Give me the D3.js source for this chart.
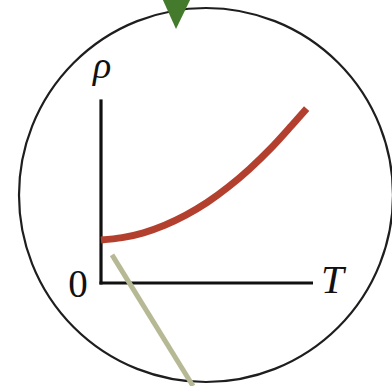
<!DOCTYPE html>
<html>
<head>
<meta charset="utf-8">
<script src="https://cdn.jsdelivr.net/npm/d3@7"></script>
<style>
  html, body { margin: 0; padding: 0; background: #fff; }
  svg { display: block; }
  .lbl { font-family: "Liberation Serif", "DejaVu Serif", serif; fill: #111; }
</style>
</head>
<body>
<svg id="chart" width="392" height="386"></svg>
<script>
// temperature (relative) and resistivity (relative)
const temps = [0, 0.1, 0.2, 0.3, 0.4, 0.5, 0.6, 0.7, 0.8, 0.9, 0.97];
const rhos = [0.239, 0.252, 0.279, 0.321, 0.377, 0.447, 0.533, 0.633, 0.747, 0.876, 0.969];
// pointer line, in the same data units
const pointerT = [0.052, 0.434];
const pointerRho = [0.156, -0.572];
const labels = { y: "ρ", x: "T", origin: "0" };

const svg = d3.select("#chart");

const xScale = d3.scaleLinear().domain([0, 1]).range([101, 313]);
const yScale = d3.scaleLinear().domain([0, 1]).range([283, 103]);

// magnifier circle
svg.append("circle")
  .attr("cx", 206)
  .attr("cy", 195)
  .attr("r", 187)
  .attr("fill", "none")
  .attr("stroke", "#1e1e1e")
  .attr("stroke-width", 2.2);

// green marker at top
svg.append("path")
  .attr("d", "M162,-2 L191,-2 L176,29 Z")
  .attr("fill", "#437a2c");

// axes
const axisGrp = svg.append("g").attr("stroke", "#111").attr("stroke-width", 3.2).attr("fill", "none");
axisGrp.append("line")
  .attr("x1", xScale(0)).attr("x2", xScale(0))
  .attr("y1", yScale(0) + 1.5).attr("y2", yScale(1.02));
axisGrp.append("line")
  .attr("x1", xScale(0) - 1.5).attr("x2", xScale(1))
  .attr("y1", yScale(0)).attr("y2", yScale(0));

// curve
const line = d3.line()
  .x((d, i) => xScale(temps[i]))
  .y((d) => yScale(d))
  .curve(d3.curveMonotoneX);

svg.append("path")
  .datum(rhos)
  .attr("fill", "none")
  .attr("stroke", "#b3402f")
  .attr("stroke-width", 7)
  .attr("d", line);

// pointer
svg.append("line")
  .attr("x1", xScale(pointerT[0])).attr("y1", yScale(pointerRho[0]))
  .attr("x2", xScale(pointerT[1])).attr("y2", yScale(pointerRho[1]))
  .attr("stroke", "#b7b995")
  .attr("stroke-width", 5);

// labels
svg.append("text")
  .attr("class", "lbl")
  .attr("x", xScale(0) + 1)
  .attr("y", 78)
  .attr("text-anchor", "middle")
  .style("font-style", "italic")
  .style("font-size", "38px")
  .text(labels.y);

svg.append("text")
  .attr("class", "lbl")
  .attr("x", 78)
  .attr("y", 297)
  .attr("text-anchor", "middle")
  .style("font-size", "39px")
  .text(labels.origin);

svg.append("text")
  .attr("class", "lbl")
  .attr("x", 321)
  .attr("y", 293)
  .style("font-style", "italic")
  .style("font-size", "41px")
  .text(labels.x);
</script>
</body>
</html>
